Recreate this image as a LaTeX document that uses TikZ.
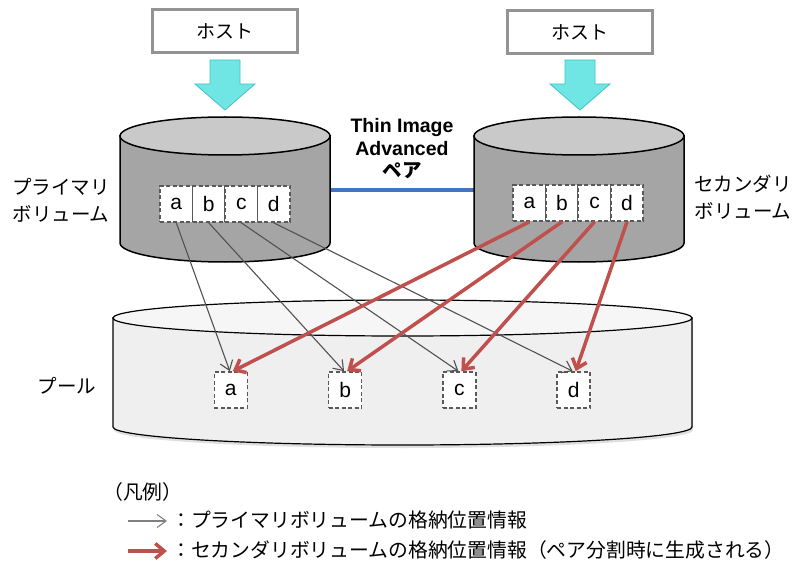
\documentclass[tikz,border=0pt]{standalone}
\usepackage{fontspec}
\setmainfont{Liberation Sans}
\newfontfamily\jp{Noto Sans CJK JP}
\usetikzlibrary{arrows.meta,shadows}
\definecolor{cyl}{HTML}{A5A5A5}
\definecolor{cyltop}{HTML}{C9C9C9}
\definecolor{poolside}{HTML}{EFEFEF}
\definecolor{pooltop}{HTML}{F6F6F6}
\definecolor{sky}{HTML}{6FE6E4}
\definecolor{skyline}{HTML}{40C4C4}
\definecolor{pairblue}{HTML}{4472C4}
\definecolor{sred}{HTML}{C0504D}
\tikzstyle{host}=[draw=gray!85,line width=3pt,fill=white,minimum width=145pt,minimum height=43pt,font=\jp\fontsize{19}{21}\selectfont]
\tikzstyle{cell}=[draw=black!65,dash pattern=on 4pt off 2.5pt,line width=1.6pt,fill=white,minimum width=32.5pt,minimum height=36pt,inner sep=0pt,font=\fontsize{21}{22}\selectfont]
\tikzstyle{pcell}=[cell,minimum width=33pt]
\tikzstyle{lbl}=[align=center,font=\jp\fontsize{19.5}{27}\selectfont]
\tikzstyle{leg}=[anchor=west,inner sep=0pt,font=\jp\fontsize{19.8}{21}\selectfont]
\tikzstyle{ptr}=[draw=black!68,line width=1.1pt,-{Straight Barb[length=9pt,width=13pt]}]
\tikzstyle{sptr}=[draw=sred,line width=3.5pt,-{Straight Barb[length=9pt,width=15pt]}]

\begin{document}
\begin{tikzpicture}[x=1pt,y=-1pt]
\useasboundingbox (0,0) rectangle (795,564);
\node[host] (h1) at (225,31) {ホスト};
\node[host] (h2) at (580,32) {ホスト};
\foreach \x in {225,580} \filldraw[fill=sky,draw=skyline,line width=.8pt] (\x-15,60) -- (\x+15,60) -- (\x+15,84) -- (\x+30,84) -- (\x,110) -- (\x-30,84) -- (\x-15,84) -- cycle;
\coordinate (pr) at (330,190); \coordinate (sl) at (474,190);
\draw[pairblue,line width=4pt] (pr) -- (sl);
\foreach \x in {225,579} {\filldraw[fill=cyl,line width=1.5pt] (\x-105,136) -- (\x-105,243) arc[start angle=180,end angle=0,x radius=105,y radius=19] -- (\x+105,136) -- cycle;
\filldraw[fill=cyltop,line width=1.5pt] (\x,136) ellipse[x radius=105,y radius=19];}
\node[align=center,font=\bfseries\fontsize{19.5}{22.5}\selectfont] (pair) at (402,149) {Thin Image\\Advanced\\{\jp ペア}};
\node[lbl] (plbl) at (61,200) {プライマリ\\ボリューム};
\node[lbl] (slbl) at (743,197) {セカンダリ\\ボリューム};
\filldraw[fill=poolside,line width=1.2pt,drop shadow={opacity=.25,shadow xshift=1pt,shadow yshift=-3pt}] (113,318) -- (113,427) arc[start angle=180,end angle=0,x radius=289.5,y radius=18] -- (692,318) -- cycle;
\filldraw[fill=pooltop,line width=1.2pt] (402.5,318) ellipse[x radius=289.5,y radius=18];
\node[lbl] (poollbl) at (67,386) {プール};
\foreach \l [count=\i] in {a,b,c,d} {
\node[cell] (p\l) at (143.75+32.5*\i,204) {\l};
\node[cell] (s\l) at (497+32.5*\i,203) {\l};
\node[pcell] (k\l) at (116.5+114.3*\i,390) {\l};}
\foreach \l in {a,b,c,d} \draw[ptr] (p\l.south) -- ([xshift=-1pt]k\l.north);
\foreach \l in {a,b,c,d} \draw[sptr] (s\l.south) -- ([xshift=2pt]k\l.north);
\node[leg] (legtitle) at (103,492) {（凡例）};
\coordinate (g1) at (128,521); \coordinate (g2) at (167,521);
\draw[ptr,draw=black!50] (g1) -- (g2);
\node[leg] (gtxt) at (171,520) {：プライマリボリュームの格納位置情報};
\coordinate (r1) at (128,551); \coordinate (r2) at (167,551);
\draw[sptr] (r1) -- (r2);
\node[leg] (rtxt) at (171,550) {：セカンダリボリュームの格納位置情報（ペア分割時に生成される）};
\end{tikzpicture}
\end{document}
